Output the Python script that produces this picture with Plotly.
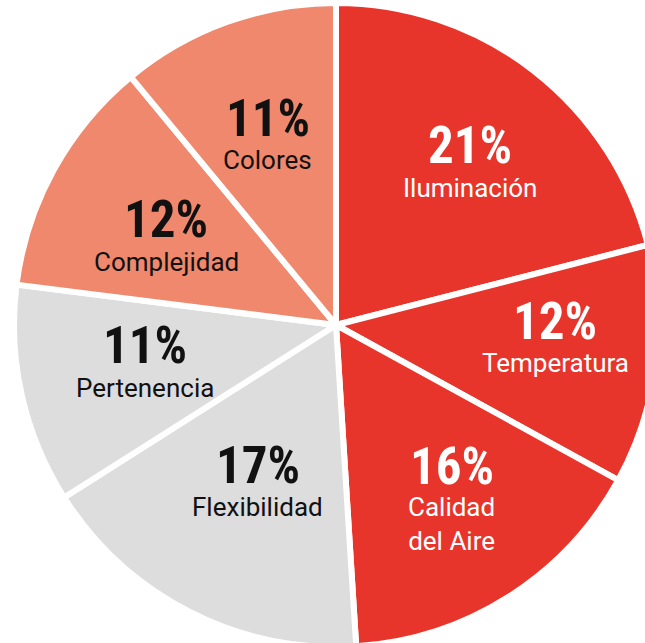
import math
import plotly.graph_objects as go

# Slice data (clockwise from 12 o'clock)
categories = ["Iluminación", "Temperatura", "Calidad del Aire", "Flexibilidad",
              "Pertenencia", "Complejidad", "Colores"]
shares = [21, 12, 16, 17, 11, 12, 11]
display_labels = ["Iluminación", "Temperatura", "Calidad<br>del Aire", "Flexibilidad",
                  "Pertenencia", "Complejidad", "Colores"]

RED = "#E8352B"
SALMON = "#EF886C"
GREY = "#DDDDDD"
slice_colors = [RED, RED, RED, GREY, GREY, SALMON, SALMON]
text_colors = ["white", "white", "white", "#111111", "#111111", "#111111", "#111111"]

# Canvas and pie geometry (pixels)
W, H = 672, 650
CX, CY = W / 2, H / 2
R = 322
# placement of each label group: radius fraction and angular nudge (degrees)
label_radius = [0.646, 0.683, 0.618, 0.553, 0.606, 0.59, 0.618]
label_nudge = [2.2, -3.0, -3.2, -1.0, 0.6, -2.1, -0.2]

fig = go.Figure(
    go.Pie(
        labels=categories,
        values=shares,
        sort=False,
        direction="clockwise",
        rotation=0,
        marker=dict(colors=slice_colors, line=dict(color="white", width=6)),
        textinfo="none",
        hoverinfo="label+percent",
        showlegend=False,
        domain=dict(x=[0.5 - R / W, 0.5 + R / W], y=[0.5 - R / H, 0.5 + R / H]),
    )
)

total = sum(shares)
cum = 0
annotations = []
for lbl, v, rf, nd, tc in zip(display_labels, shares, label_radius, label_nudge, text_colors):
    mid = (cum + v / 2) / total * 2 * math.pi + math.radians(nd)
    cum += v
    px = CX + rf * R * math.sin(mid)
    py = CY - rf * R * math.cos(mid)
    xp = px / W
    yp = 1 - py / H
    pct = round(v / total * 100)
    annotations.append(dict(
        x=xp, y=yp, xref="paper", yref="paper", showarrow=False,
        text=f"<span style='font-stretch:condensed'>{pct}%</span>",
        xanchor="center", yanchor="middle", yshift=20,
        font=dict(family="Roboto", size=51, color=tc, weight="bold"),
    ))
    n_lines = lbl.count("<br>") + 1
    annotations.append(dict(
        x=xp, y=yp, xref="paper", yref="paper", showarrow=False,
        text=lbl, xanchor="center", yanchor="middle",
        yshift=-22 - (n_lines - 1) * 15.5,
        font=dict(family="Roboto, Liberation Sans, sans-serif", size=26, color=tc),
    ))

fig.update_layout(
    width=W, height=H,
    margin=dict(l=0, r=0, t=0, b=0),
    paper_bgcolor="white",
    plot_bgcolor="white",
    annotations=annotations,
)

fig.write_html(
    "out.html",
    post_script="document.body.style.margin='0';"
                "document.body.style.overflow='hidden';"
                "document.documentElement.style.overflow='hidden';",
)
